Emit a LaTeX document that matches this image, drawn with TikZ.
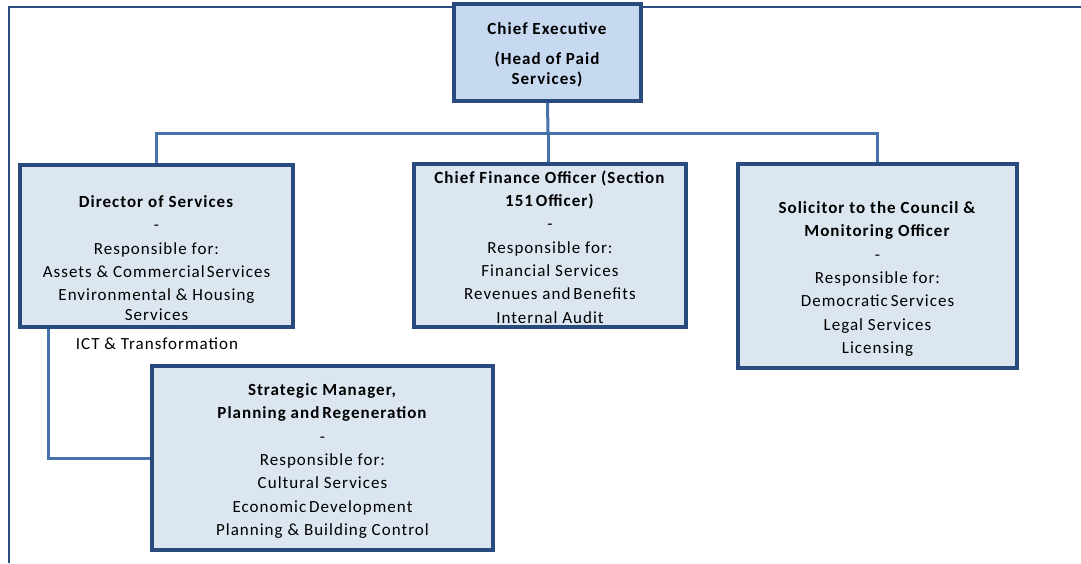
\documentclass[tikz,border=0pt]{standalone}
\usepackage{fontspec}
\setmainfont{Carlito}[LetterSpace=6]
\definecolor{boxline}{RGB}{40,74,124}
\definecolor{linkline}{RGB}{70,114,172}
\definecolor{topfill}{RGB}{198,217,241}
\definecolor{boxfill}{RGB}{220,230,241}
\begin{document}
\begin{tikzpicture}[x=1pt,y=-1pt,
	box/.style={draw=boxline,line width=3.5pt,fill=boxfill,inner sep=0pt},
	txt/.style={align=center,font=\fontsize{17}{23.3}\selectfont,inner sep=0pt},
	link/.style={draw=linkline,line width=3pt}]
	\useasboundingbox (0,0) rectangle (1081,563);
	% frame
	\draw[boxline,line width=2.2pt] (9,563) -- (9,7) -- (1081,7);
	% chief executive
	\node[box,fill=topfill,minimum width=187,minimum height=97] (ce) at (547.5,52.5) {};
	\node[txt] (cetxt) at (547.5,55) {\textbf{Chief Executive}\\[7pt]\textbf{(Head of Paid}\\[-3pt]\textbf{Services)}};
	% second level
	\node[box,minimum width=273,minimum height=162] (dir) at (156.5,246) {};
	\node[txt] (dirtxt) at (156.5,258) {\textbf{Director of Services}\\-\\Responsible for:\\Assets \& Commercial\hspace{2pt}Services\\Environmental \& Housing\\[-4pt]Services};
	\node[txt] (ict) at (157,344) {ICT \& Transformation};
	\node[box,minimum width=272,minimum height=163] (cfo) at (550,245.5) {};
	\node[txt] (cfotxt) at (550,247) {\textbf{Chief Finance Officer (Section}\\\textbf{151\hspace{-2pt} Officer)}\\-\\Responsible for:\\Financial Services\\Revenues and\hspace{-2pt} Benefits\\Internal Audit};
	\node[box,minimum width=279,minimum height=204] (sol) at (877.5,266) {};
	\node[txt] (soltxt) at (877.5,279) {\textbf{Solicitor to the Council \&}\\\textbf{Monitoring Officer}\\-\\Responsible for:\\Democratic\hspace{-2pt} Services\\Legal Services\\Licensing};
	% third level
	\node[box,minimum width=341,minimum height=184] (str) at (322.5,458) {};
	\node[txt] (strtxt) at (322.5,461) {\textbf{Strategic Manager,}\\\textbf{Planning and\hspace{-2pt} Regeneration}\\-\\Responsible for:\\Cultural Services\\Economic\hspace{-2pt} Development\\Planning \& Building Control};
	% connectors
	\coordinate (bus) at (548,133);
	\draw[link] (ce.south) -- (bus);
	\draw[link] (dir.north) |- (bus) -| (sol.north);
	\draw[link] (bus) -- (bus |- cfo.north);
	\draw[link] ([xshift=-108]dir.south) |- (str.west);
\end{tikzpicture}
\end{document}
